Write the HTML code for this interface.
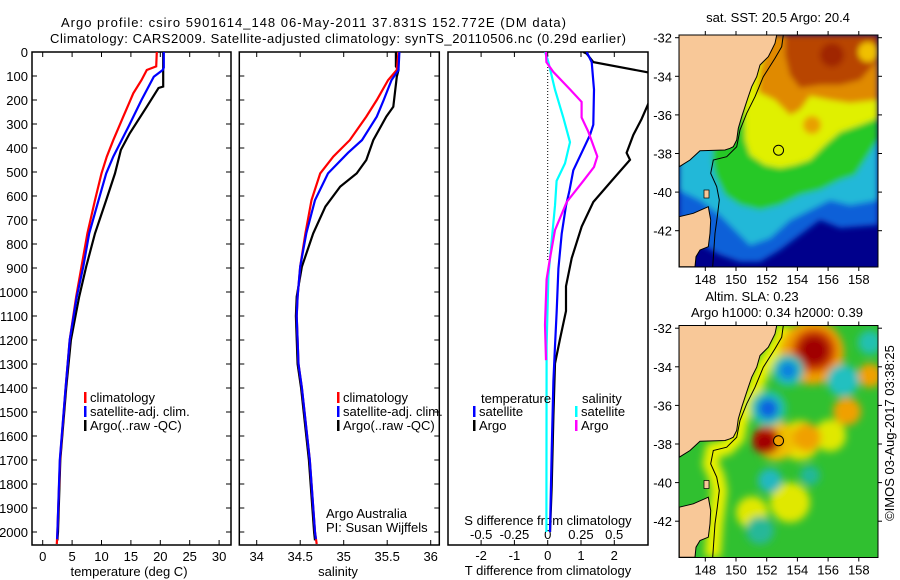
<!DOCTYPE html>
<html><head><meta charset="utf-8">
<style>
html,body{margin:0;padding:0;background:#fff;}
svg{display:block;font-family:"Liberation Sans",sans-serif;}
text{font-size:13px;fill:#000;}
</style></head>
<body>
<svg id="fig" width="900" height="580" viewBox="0 0 900 580">
<defs>
<clipPath id="clipP3"><rect x="448" y="52" width="200" height="493"/></clipPath>
<clipPath id="clipM1"><rect x="679" y="35" width="199" height="232"/></clipPath>
<filter id="blur3"><feGaussianBlur stdDeviation="3"/></filter>
<filter id="blur6"><feGaussianBlur stdDeviation="4"/></filter>
</defs>
<text x="61" y="27" textLength="505">Argo profile: csiro 5901614_148 06-May-2011 37.831S 152.772E (DM data)</text>
<text x="50" y="43" textLength="576">Climatology: CARS2009. Satellite-adjusted climatology: synTS_20110506.nc (0.29d earlier)</text>
<g id="p1"></g>
<g id="p2"></g>
<g id="p3"></g>
<g id="m1"></g>
<g id="m2"></g>
<text transform="translate(894,433) rotate(-90)" text-anchor="middle">©IMOS 03-Aug-2017 03:38:25</text>
</svg>
<script>
// ---- data ----
const depthTicks = [0,100,200,300,400,500,600,700,800,900,1000,1100,1200,1300,1400,1500,1600,1700,1800,1900,2000];
const tempTicks = [0,5,10,15,20,25,30];
const salTicks = [34,34.5,35,35.5,36];
const salTickLabels = ["34","34.5","35","35.5","36"];
const tdiffTicks = [-2,-1,0,1,2];
const sdiffTicks = [-0.5,-0.25,0,0.25,0.5];
const sdiffLabels = ["-0.5","-0.25","0","0.25","0.5"];

const climTDepth = [0,60,75,117,172,269,367,436,506,617,756,894,1019,1200,1400,1700,2000,2050];
const climT = [19.4,19.3,17.7,16.8,15.4,13.7,12.0,10.9,10.0,8.9,7.6,6.6,5.7,4.6,3.9,2.95,2.5,2.4];
const satTDepth = [0,65,75,103,200,311,436,506,617,756,894,1019,1200,1400,1700,2000,2030];
const satT = [20.6,20.6,20.4,18.9,16.8,14.6,12.0,10.8,9.5,7.9,6.9,5.8,4.6,3.9,2.9,2.5,2.45];
const argoTDepth = [0,144,150,228,339,408,506,617,756,894,1019,1200,1400,1700,2000,2035];
const argoT = [20.5,20.5,19.7,17.7,14.8,13.3,12.3,10.8,8.9,7.4,6.2,4.8,4.0,3.0,2.6,2.5];

const climSDepth = [0,75,117,200,269,367,436,506,617,756,894,1019,1100,1300,1400,1700,2000,2050];
const climS = [35.63,35.61,35.51,35.38,35.26,35.07,34.88,34.73,34.63,34.56,34.50,34.47,34.46,34.48,34.52,34.61,34.67,34.69];
const satSDepth = [0,75,117,200,269,367,420,506,617,756,894,1019,1100,1300,1400,1700,2000,2030];
const satS = [35.64,35.63,35.55,35.46,35.38,35.21,35.05,34.82,34.67,34.57,34.50,34.47,34.46,34.48,34.52,34.61,34.67,34.68];
const argoSDepth = [0,60,75,103,228,269,367,450,506,561,644,756,894,1019,1100,1300,1400,1700,2000,2035];
const argoS = [35.60,35.60,35.63,35.61,35.57,35.49,35.34,35.26,35.15,34.96,34.79,34.65,34.52,34.46,34.45,34.47,34.51,34.60,34.66,34.67];

const dTSatDepth = [0,42,157,303,346,405,493,581,640,757,903,1079,1225,1371,1663,2000];
const dTSat = [1.17,1.32,1.39,1.37,1.27,1.07,0.77,0.65,0.55,0.42,0.32,0.27,0.22,0.17,0.12,0.07];
const dTArgoDepth = [0,7,42,95,279,346,420,449,537,625,727,859,976,1079,1196,1298,1517,1810,2000];
const dTArgo = [1.07,1.17,1.37,3.4,2.82,2.57,2.37,2.47,1.92,1.37,1.02,0.72,0.55,0.55,0.37,0.22,0.17,0.12,0.07];
const dSSatDepth = [0,42,157,273,376,464,537,640,786,932,1225,2000];
const dSSat = [-0.02,0.005,0.055,0.117,0.168,0.13,0.067,0.055,0.03,0.005,-0.008,-0.01];
const dSArgoDepth = [0,42,83,156,208,273,332,435,479,537,625,742,859,947,1137,1284];
const dSArgo = [-0.013,-0.01,0.042,0.168,0.255,0.255,0.305,0.373,0.348,0.268,0.143,0.055,0.017,-0.008,-0.02,-0.013];

const lonTicks = [148,150,152,154,156,158];
const latTicks = [-32,-34,-36,-38,-40,-42];
const argoLon = 152.772, argoLat = -37.831;

// ---- scales ----
const NS = "http://www.w3.org/2000/svg";
const yD = d => 52 + d * 0.24;
const xT = t => 42.7 + t * 5.88;
const xS = s => 256.7 + (s - 34) * 87;
const xDT = t => 547.7 + t * 33.3;
const xDS = s => 547.7 + s * 133;
const xLon = l => 705.3 + (l - 148) * 15.35;
const yLat = l => 37.7 + (-32 - l) * 19.3;

function el(tag, attrs, parent) {
  const e = document.createElementNS(NS, tag);
  for (const k in attrs) e.setAttribute(k, attrs[k]);
  parent.appendChild(e);
  return e;
}
function txt(parent, x, y, s, anchor) {
  const t = el('text', {x: x, y: y, 'text-anchor': anchor || 'start'}, parent);
  t.textContent = s;
  return t;
}
function line(depths, vals, xf) {
  return depths.map((d, i) => xf(vals[i]).toFixed(1) + ',' + yD(d).toFixed(1)).join(' ');
}
function series(parent, depths, vals, xf, color, name) {
  const p = el('polyline', {points: line(depths, vals, xf), fill: 'none', stroke: color, 'stroke-width': 2.2, 'stroke-linejoin': 'miter'}, parent);
  
  
  return p;
}
function legendEntry(parent, x, y, color, label, name) {
  const g = el('g', {}, parent);
  
  
  el('rect', {x: x, y: y - 10, width: 2.5, height: 11, fill: color}, g);
  txt(g, x + 6, y, label);
}
function profilePanel(g, x0, w, xf, ticks, labels, xlabel, xlabelX) {
  el('rect', {x: x0, y: 52, width: w, height: 493, fill: 'none', stroke: '#000', 'stroke-width': 1.5}, g);
  depthTicks.forEach(d => {
    el('line', {x1: x0, x2: x0 + 5, y1: yD(d), y2: yD(d), stroke: '#000'}, g);
    el('line', {x1: x0 + w - 5, x2: x0 + w, y1: yD(d), y2: yD(d), stroke: '#000'}, g);
  });
  ticks.forEach((t, i) => {
    const x = xf(t);
    el('line', {x1: x, x2: x, y1: 52, y2: 57, stroke: '#000'}, g);
    el('line', {x1: x, x2: x, y1: 540, y2: 545, stroke: '#000'}, g);
    const lt = txt(g, x, 561, labels[i], 'middle');
    
    
  });
  const xl = txt(g, xlabelX, 576, xlabel, 'middle');
  
  
}

// ---- panel 1: temperature ----
const p1 = document.getElementById('p1');
profilePanel(p1, 32, 199, xT, tempTicks, tempTicks.map(String), 'temperature (deg C)', 129);
depthTicks.forEach(d => {
  const t = txt(p1, 28, yD(d) + 5, String(d), 'end');
  
  
});
series(p1, argoTDepth, argoT, xT, '#000', 'argo-temperature-line');
series(p1, climTDepth, climT, xT, '#f00', 'climatology-temperature-line');
series(p1, satTDepth, satT, xT, '#00f', 'satellite-temperature-line');
legendEntry(p1, 84, 402, '#f00', 'climatology', 'legend-climatology');
legendEntry(p1, 84, 416, '#00f', 'satellite-adj. clim.', 'legend-satellite');
legendEntry(p1, 84, 430, '#000', 'Argo(..raw -QC)', 'legend-argo');

// ---- panel 2: salinity ----
const p2 = document.getElementById('p2');
profilePanel(p2, 239.3, 200, xS, salTicks, salTickLabels, 'salinity', 338);
series(p2, argoSDepth, argoS, xS, '#000', 'argo-salinity-line');
series(p2, climSDepth, climS, xS, '#f00', 'climatology-salinity-line');
series(p2, satSDepth, satS, xS, '#00f', 'satellite-salinity-line');
legendEntry(p2, 337, 402, '#f00', 'climatology', 'legend-climatology');
legendEntry(p2, 337, 416, '#00f', 'satellite-adj. clim.', 'legend-satellite');
legendEntry(p2, 337, 430, '#000', 'Argo(..raw -QC)', 'legend-argo');
const a1 = txt(p2, 326, 518, 'Argo Australia');


const a2 = txt(p2, 326, 532, 'PI: Susan Wijffels');



// ---- panel 3: differences ----
const p3 = document.getElementById('p3');
el('rect', {x: 448, y: 52, width: 200, height: 493, fill: 'none', stroke: '#000', 'stroke-width': 1.5}, p3);
el('line', {x1: xDT(0), x2: xDT(0), y1: 55, y2: 262, stroke: '#000', 'stroke-dasharray': '1,2'}, p3);
tdiffTicks.forEach(t => {
  el('line', {x1: xDT(t), x2: xDT(t), y1: 52, y2: 57, stroke: '#000'}, p3);
  el('line', {x1: xDT(t), x2: xDT(t), y1: 540, y2: 545, stroke: '#000'}, p3);
  const lt = txt(p3, xDT(t), 560, String(t), 'middle');
  
  
});
sdiffTicks.forEach((s, i) => {
  const lt = txt(p3, xDS(s), 539, sdiffLabels[i], 'middle');
  
  
});
const st = txt(p3, 548, 525, 'S difference from climatology', 'middle');


const tt = txt(p3, 548, 575, 'T difference from climatology', 'middle');


const p3c = el('g', {'clip-path': 'url(#clipP3)'}, p3);
series(p3c, dTArgoDepth, dTArgo, xDT, '#000', 'argo-t-diff-line');
series(p3c, dTSatDepth, dTSat, xDT, '#00f', 'satellite-t-diff-line');
series(p3c, dSSatDepth, dSSat, xDS, '#0ff', 'satellite-s-diff-line');
series(p3c, dSArgoDepth, dSArgo, xDS, '#f0f', 'argo-s-diff-line');
const lt1 = txt(p3, 481, 403, 'temperature');


const lt2 = txt(p3, 582, 403, 'salinity');


legendEntry(p3, 473, 416, '#00f', 'satellite', 'legend-t-satellite');
legendEntry(p3, 473, 430, '#000', 'Argo', 'legend-t-argo');
legendEntry(p3, 575, 416, '#0ff', 'satellite', 'legend-s-satellite');
legendEntry(p3, 575, 430, '#f0f', 'Argo', 'legend-s-argo');

// ---- maps ----
const landA = "679,35 776.7,35 775,43.3 771.7,50 768.3,56.7 760,65 756.7,76.7 751.7,86.7 748.3,96.7 745,106.7 741.7,116.7 738.3,128.3 736.7,140 733.3,146.7 730,148.3 725,150 700,150.7 690,160 679.3,166.7";
const landB = "679.3,216.7 693.3,213.3 708.3,206.7 710.7,220 710,233.3 708.3,246.7 700,250 696,256.7 695,266.7 679.3,266.7";
const shelf = "783.3,35 781.7,46.7 775,58.3 763.3,76.7 755,96.7 746.7,113.3 740,130 736.7,146.7 726.7,156.7 713.3,160 710.7,173.3 716.7,186.7 719.3,200 717.3,216.7 715,233.3 712.7,266.7";

function mapFrame(g, dy) {
  el('rect', {x: 679, y: 35 + dy, width: 199, height: 232, fill: 'none', stroke: '#000', 'stroke-width': 1}, g);
  lonTicks.forEach(l => {
    el('line', {x1: xLon(l), x2: xLon(l), y1: 35 + dy, y2: 31 + dy, stroke: '#000'}, g);
    el('line', {x1: xLon(l), x2: xLon(l), y1: 267 + dy, y2: 271 + dy, stroke: '#000'}, g);
    const t = txt(g, xLon(l), 284 + dy, String(l), 'middle');
    
    
  });
  latTicks.forEach(l => {
    el('line', {x1: 675, x2: 679, y1: yLat(l) + dy, y2: yLat(l) + dy, stroke: '#000'}, g);
    el('line', {x1: 878, x2: 882, y1: yLat(l) + dy, y2: yLat(l) + dy, stroke: '#000'}, g);
    const t = txt(g, 672, yLat(l) + dy + 5, String(l), 'end');
    
    
  });
}
function landLayer(g, circleFill) {
  el('polygon', {points: landA, fill: '#f8c898', stroke: '#000', 'stroke-width': 1}, g);
  el('polygon', {points: landB, fill: '#f8c898', stroke: '#000', 'stroke-width': 1}, g);
  el('rect', {x: 704, y: 190, width: 5, height: 8, fill: '#f8c898', stroke: '#000', 'stroke-width': 0.7}, g);
  el('polyline', {points: shelf, fill: 'none', stroke: '#000', 'stroke-width': 1}, g);
  const c = el('circle', {cx: xLon(argoLon), cy: yLat(argoLat), r: 5, fill: circleFill, stroke: '#000', 'stroke-width': 1}, g);
  
  
}

// Map 1: SST
const m1 = document.getElementById('m1');
const m1t = txt(m1, 778, 22, 'sat. SST: 20.5 Argo: 20.4', 'middle');


const m1c = el('g', {'clip-path': 'url(#clipM1)'}, m1);
el('rect', {x: 679, y: 35, width: 199, height: 232, fill: '#00008c'}, m1c);
const m1b = el('g', {filter: 'url(#blur3)'}, m1c);
[
 ['#1060d8', "679,35 878,35 878,225 840,228 820,220 800,235 780,250 760,262 740,262 720,255 679,232"],
 ['#20b8d8', "679,35 878,35 878,200 850,205 830,200 810,210 790,220 770,238 750,245 735,230 720,215 700,200 679,190"],
 ['#28c828', "720,35 878,35 878,140 865,160 855,175 840,180 820,190 800,195 780,205 760,210 740,205 725,195 715,175 712,160"],
 ['#e0f000', "742,35 878,35 878,118 860,125 840,132 825,145 810,160 795,165 780,168 765,165 750,155 745,140"],
 ['#e08a00', "770,35 878,35 878,100 850,103 830,100 810,96 800,110 790,115 775,100 758,92 760,70"],
 ['#b84400', "785,35 878,35 878,60 860,80 840,85 820,85 800,88 790,75 785,55"]
].forEach(([c, p]) => el('polygon', {points: p, fill: c}, m1b));
el('circle', {cx: 832, cy: 55, r: 12, fill: '#a02800'}, m1b);
el('circle', {cx: 868, cy: 52, r: 10, fill: '#f0c000'}, m1b);
el('circle', {cx: 812, cy: 125, r: 9, fill: '#e8a000'}, m1b);
landLayer(m1c, 'none');
mapFrame(m1, 0);

// Map 2: SLA
const m2 = document.getElementById('m2');
const m2t1 = txt(m2, 752, 301, 'Altim. SLA: 0.23', 'middle');


const m2t2 = txt(m2, 777, 317, 'Argo h1000: 0.34 h2000: 0.39', 'middle');


const m2g = el('g', {transform: 'translate(0,290.5)'}, m2);
const m2c = el('g', {'clip-path': 'url(#clipM1)'}, m2g);
el('rect', {x: 679, y: 35, width: 199, height: 232, fill: '#30c030'}, m2c);
const m2b = el('g', {filter: 'url(#blur6)'}, m2c);
el('polyline', {points: shelf, fill: 'none', stroke: '#e8f000', 'stroke-width': 16}, m2b);
[
 [790,212,20,'#e0e800'],[752,222,16,'#e0e800'],[830,145,16,'#e0e800'],[800,150,20,'#e8e000'],
 [812,62,32,'#f0a000'],[814,60,22,'#d04000'],[814,60,15,'#a00000'],
 [776,150,20,'#f0c000'],[766,150,14,'#c02000'],[765,152,10,'#a00000'],
 [807,147,14,'#f0a000'],[847,121,14,'#f0a000'],[870,85,12,'#f0a000'],
 [788,80,16,'#20c0b0'],[788,80,9,'#1080e0'],
 [768,118,18,'#20c0b0'],[768,118,10,'#1060e0'],
 [843,90,16,'#20c0c0'],[870,52,12,'#20c0b0'],
 [770,190,12,'#20b8c0'],[760,240,14,'#28b898'],[810,185,10,'#20b898']
].forEach(([x, y, r, c]) => el('circle', {cx: x, cy: y, r: r, fill: c}, m2b));
landLayer(m2c, '#f0a000');
mapFrame(m2g, 0);
</script>
</body></html>
